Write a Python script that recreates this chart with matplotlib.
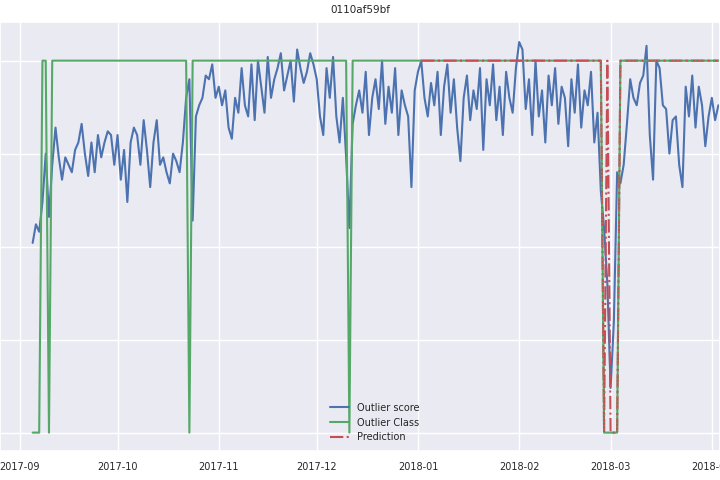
import matplotlib
matplotlib.use("Agg")
import matplotlib.pyplot as plt
import matplotlib.dates as mdates
import seaborn as sns
import pandas as pd

sns.set_theme(style="darkgrid")
plt.rcParams['font.family'] = ['DejaVu Sans']

start_date = "2017-09-05"
sep = [0.51,0.56,0.54,0.62,0.75,0.58,0.72,0.82,0.74,0.68,0.74,0.72,0.70,0.76,0.78,0.83,0.75,0.69,0.78,0.70,0.80,0.74,0.78,0.81,0.80,0.72]
oct_ = [0.80,0.68,0.76,0.62,0.78,0.82,0.80,0.72,0.84,0.76,0.66,0.78,0.84,0.72,0.74,0.70,0.67,0.75,0.73,0.70,0.78,0.90,0.95,0.57,0.85,0.88,0.90,0.96,0.95,0.99,0.90]
nov = [0.93,0.88,0.92,0.82,0.79,0.90,0.86,0.98,0.88,0.85,0.99,0.84,1.00,0.93,0.86,1.01,0.90,0.95,0.98,1.02,0.92,0.96,1.00,0.89,1.03,0.98,0.94,0.97,1.02,0.99]
dec = [0.95,0.85,0.80,0.98,0.90,1.01,0.85,0.78,0.90,0.74,0.55,0.83,0.88,0.92,0.86,0.97,0.80,0.90,0.95,0.87,1.00,0.83,0.93,0.86,0.98,0.80,0.92,0.88,0.85,0.66,0.92]
jan = [0.97,1.00,0.90,0.85,0.94,0.88,0.97,0.80,0.93,0.99,0.86,0.95,0.82,0.73,0.90,0.96,0.84,0.92,0.87,0.98,0.76,0.95,0.88,0.99,0.84,0.93,0.80,0.97,0.90,0.86,0.98]
feb = [1.05,1.03,0.87,0.95,0.80,1.00,0.85,0.92,0.78,0.96,0.88,0.98,0.83,0.93,0.90,0.77,0.95,0.86,0.99,0.82,0.92,0.88,0.97,0.78,0.86,0.65,0.55,0.40]
mar = [0.12,0.30,0.70,0.67,0.72,0.83,0.95,0.90,0.88,0.94,0.96,1.04,0.80,0.68,1.00,0.98,0.88,0.87,0.75,0.84,0.85,0.72,0.66,0.93,0.85,0.96,0.82,0.93,0.88,0.77,0.85]
apr = [0.90,0.84,0.88]

class_dates = ["2017-09-05","2017-09-07","2017-09-08","2017-09-09","2017-09-10","2017-09-11",
               "2017-10-22","2017-10-23","2017-10-24","2017-12-10","2017-12-11","2017-12-12",
               "2018-02-26","2018-02-27","2018-03-03","2018-03-04","2018-04-03"]
class_vals = [0,0,1,1,0,1,1,0,1,1,0,1,1,0,0,1,1]

pred_dates = ["2018-01-02","2018-02-26","2018-02-27","2018-02-28","2018-03-01","2018-03-03","2018-03-04","2018-04-03"]
pred_vals = [1,1,0,1,0,0,1,1]

score = sep + oct_ + nov + dec + jan + feb + mar + apr
dates = pd.date_range(start_date, periods=len(score), freq="D")

fig = plt.figure(figsize=(7.2, 4.8), dpi=100)
ax = fig.add_axes([0.0, 0.06, 1.0, 0.895])
ax.plot(dates, score, color="#4C72B0", lw=1.5, label="Outlier score")
ax.plot(pd.to_datetime(class_dates), class_vals, color="#55A868", lw=1.5, label="Outlier Class")
ax.plot(pd.to_datetime(pred_dates), pred_vals, color="#C44E52", lw=1.5, ls="-.", label="Prediction")
ax.plot(pd.to_datetime(class_dates[12:]), class_vals[12:], color="#55A868", lw=1, ls=":")
ax.set_ylim(-0.05, 1.105)
ax.set_xlim(pd.Timestamp("2017-08-26"), pd.Timestamp("2018-04-03 12:00"))
ax.xaxis.set_major_locator(mdates.MonthLocator())
ax.xaxis.set_major_formatter(mdates.DateFormatter("%Y-%m"))
ax.set_yticks([0, 0.25, 0.5, 0.75, 1.0])
ax.tick_params(labelsize=7, pad=2)
ax.set_yticklabels([])
ax.set_title("0110af59bf", fontsize=7.5, pad=6)
ax.legend(loc="lower center", fontsize=7, frameon=False, bbox_to_anchor=(0.52, 0.0))
fig.savefig("out.png", dpi=100)
